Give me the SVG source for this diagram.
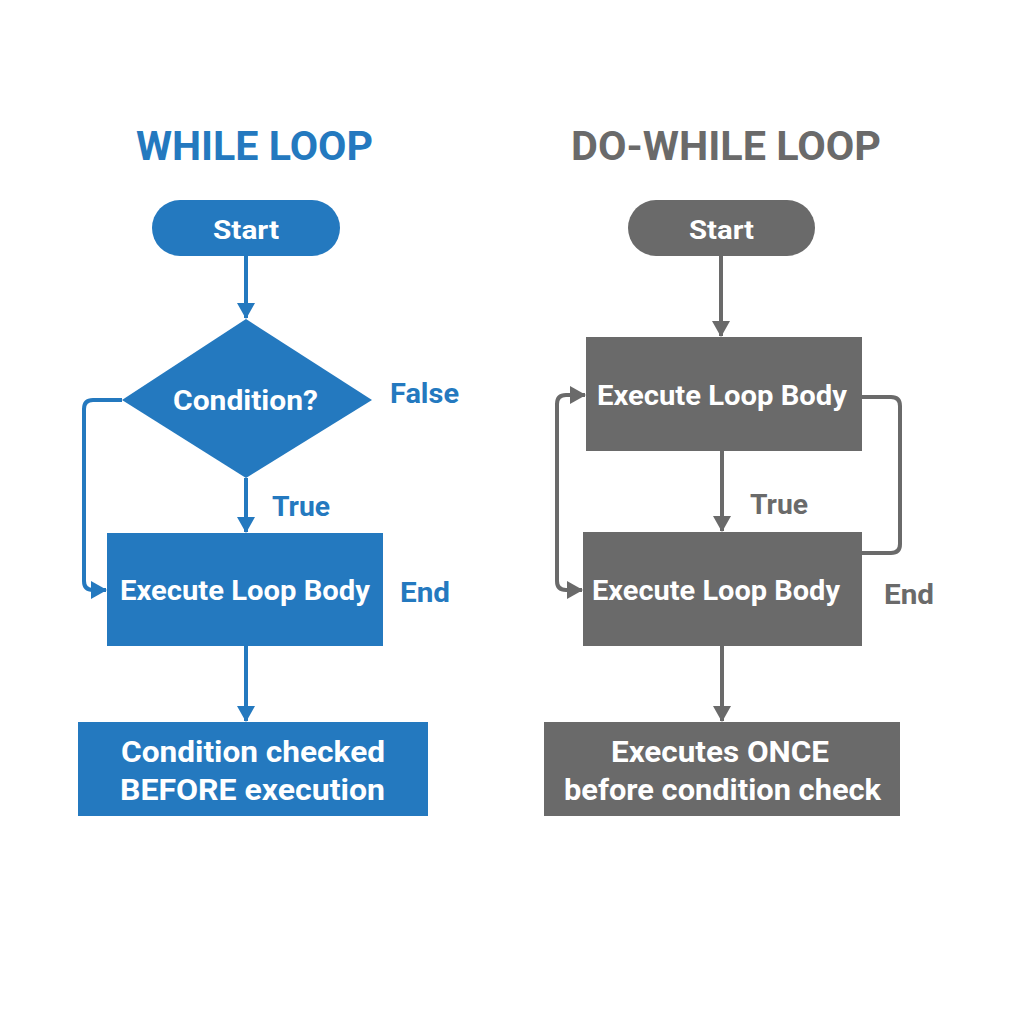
<svg xmlns="http://www.w3.org/2000/svg" width="1024" height="1024" viewBox="0 0 1024 1024">
<style>
text{font-family:Roboto,"Liberation Sans",sans-serif;font-weight:700;}
.w{fill:#ffffff;}
.b{fill:#2479BF;}
.g{fill:#6A6A6A;}
.lb{fill:none;stroke:#2479BF;stroke-width:4;}
.lg{fill:none;stroke:#6A6A6A;stroke-width:4;}
</style>
<defs>
<marker id="ab" viewBox="0 0 16 18" refX="15" refY="9" markerWidth="16" markerHeight="18" markerUnits="userSpaceOnUse" orient="auto"><path d="M0,0 L16,9 L0,18 z" fill="#2479BF"/></marker>
<marker id="ag" viewBox="0 0 16 18" refX="15" refY="9" markerWidth="16" markerHeight="18" markerUnits="userSpaceOnUse" orient="auto"><path d="M0,0 L16,9 L0,18 z" fill="#6A6A6A"/></marker>
</defs>
<rect width="1024" height="1024" fill="#ffffff"/>

<g id="titles">
<text x="136" y="160" font-size="40" class="b" textLength="237" lengthAdjust="spacingAndGlyphs">WHILE LOOP</text>
<text x="571" y="160" font-size="40" class="g" textLength="310" lengthAdjust="spacingAndGlyphs">DO-WHILE LOOP</text>
</g>

<g id="connectors">
<path class="lb" d="M246,256 V318" marker-end="url(#ab)"/>
<path class="lb" d="M246,478 V532" marker-end="url(#ab)"/>
<path class="lb" d="M122,400 H93 Q84,400 84,409 V581 Q84,590 93,590 H106" marker-end="url(#ab)"/>
<path class="lb" d="M246,646 V721" marker-end="url(#ab)"/>
<path class="lg" d="M721,256 V336" marker-end="url(#ag)"/>
<path class="lg" d="M722,451 V531" marker-end="url(#ag)"/>
<path class="lg" d="M557,480 V404 Q557,395 566,395 H585" marker-end="url(#ag)"/>
<path class="lg" d="M557,480 V581 Q557,590 566,590 H582" marker-end="url(#ag)"/>
<path class="lg" d="M862,397 H891 Q900,397 900,406 V544 Q900,553 891,553 H862"/>
<path class="lg" d="M722,646 V721" marker-end="url(#ag)"/>
</g>

<g id="labels">
<text x="390" y="403" font-size="27" class="b" textLength="69" lengthAdjust="spacingAndGlyphs">False</text>
<text x="272" y="516" font-size="27" class="b" textLength="58" lengthAdjust="spacingAndGlyphs">True</text>
<text x="400" y="602" font-size="27" class="b" textLength="50" lengthAdjust="spacingAndGlyphs">End</text>
<text x="750" y="514" font-size="27" class="g" textLength="58" lengthAdjust="spacingAndGlyphs">True</text>
<text x="884" y="604" font-size="27" class="g" textLength="50" lengthAdjust="spacingAndGlyphs">End</text>
</g>

<g id="w-start">
<rect x="152" y="200" width="188" height="56" rx="28" class="b"/>
<text x="213" y="239" font-size="26" class="w" textLength="66" lengthAdjust="spacingAndGlyphs">Start</text>
</g>
<g id="w-condition">
<polygon points="246,319 372,400 246,478 122,400" class="b"/>
<text x="173" y="410" font-size="28" class="w" textLength="145" lengthAdjust="spacingAndGlyphs">Condition?</text>
</g>
<g id="w-body">
<rect x="107" y="533" width="276" height="113" class="b"/>
<text x="120" y="600" font-size="27" class="w" textLength="250" lengthAdjust="spacingAndGlyphs">Execute Loop Body</text>
</g>
<g id="w-note">
<rect x="78" y="722" width="350" height="94" class="b"/>
<text x="121" y="762" font-size="30" class="w" textLength="264" lengthAdjust="spacingAndGlyphs">Condition checked</text>
<text x="120" y="800" font-size="30" class="w" textLength="265" lengthAdjust="spacingAndGlyphs">BEFORE execution</text>
</g>

<g id="d-start">
<rect x="628" y="200" width="187" height="56" rx="28" class="g"/>
<text x="689" y="239" font-size="26" class="w" textLength="65" lengthAdjust="spacingAndGlyphs">Start</text>
</g>
<g id="d-body1">
<rect x="586" y="337" width="276" height="114" class="g"/>
<text x="597" y="405" font-size="27" class="w" textLength="250" lengthAdjust="spacingAndGlyphs">Execute Loop Body</text>
</g>
<g id="d-body2">
<rect x="583" y="532" width="279" height="114" class="g"/>
<text x="592" y="600" font-size="27" class="w" textLength="248" lengthAdjust="spacingAndGlyphs">Execute Loop Body</text>
</g>
<g id="d-note">
<rect x="544" y="722" width="356" height="94" class="g"/>
<text x="611" y="762" font-size="30" class="w" textLength="218" lengthAdjust="spacingAndGlyphs">Executes ONCE</text>
<text x="564" y="800" font-size="30" class="w" textLength="317" lengthAdjust="spacingAndGlyphs">before condition check</text>
</g>
</svg>
